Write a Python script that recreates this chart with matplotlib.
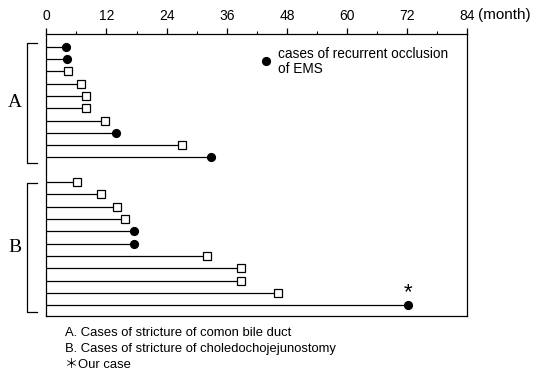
import numpy as np
import matplotlib
matplotlib.use("Agg")
from matplotlib import pyplot as plt
from matplotlib import transforms

# months of patency per case, group A (common bile duct) and B (choledochojejunostomy)
months_a = [3.9, 4.1, 4.3, 6.9, 8.0, 8.0, 11.8, 13.8, 27.0, 32.8]
recur_a = [True, True, False, False, False, False, False, True, False, True]
months_b = [6.2, 10.9, 14.0, 15.6, 17.5, 17.5, 32.1, 38.9, 38.9, 46.3, 72.2]
recur_b = [False, False, False, False, True, True, False, False, False, False, True]
xticks = [0, 12, 24, 36, 48, 60, 72, 84]
notes = ["A. Cases of stricture of comon bile duct",
         "B. Cases of stricture of choledochojejunostomy",
         "\uff0aOur case"]

plt.rcParams["font.family"] = ["Liberation Sans", "Noto Sans CJK JP", "DejaVu Sans"]

rows_a = np.arange(len(months_a))
rows_b = np.arange(len(months_b)) + len(months_a) + 1
months = months_a + months_b
recur = recur_a + recur_b
rows = np.concatenate([rows_a, rows_b])

fig = plt.figure(figsize=(5.52, 3.71), dpi=100)
ax = fig.add_axes([0.0839, 0.1482, 0.763, 0.7593])

for y, m, r in zip(rows, months, recur):
    ax.plot([0, m], [y, y], color="black", lw=0.9, zorder=2)
    if r:
        ax.plot(m, y, "o", ms=5.6, mfc="black", mec="black", zorder=3)
    else:
        ax.plot(m, y, "s", ms=5.4, mfc="white", mec="black", mew=0.9, zorder=3)

ax.set_xlim(0, 84)
ax.set_ylim(21.88, -1.007)
ax.xaxis.tick_top()
ax.set_xticks(xticks)
ax.set_xticks(np.arange(6, 84, 12), minor=True)
ax.tick_params(axis="x", which="major", direction="out", length=4, width=0.9,
               pad=4.5, labelsize=10)
ax.tick_params(axis="x", which="minor", direction="out", length=2, width=0.8)
ax.set_yticks([])
for s in ax.spines.values():
    s.set_linewidth(0.9)

ax.text(86, -2.55, "(month)", fontsize=11, ha="left", va="center",
        clip_on=False)

# group brackets on the left
tr = transforms.blended_transform_factory(ax.transAxes, ax.transData)
for label, top, bot in [("A", -0.28, 9.42), ("B", 11.05, 21.53)]:
    ax.plot([-0.0228, -0.0451, -0.0451, -0.0228], [top, top, bot, bot],
            color="black", lw=0.9, transform=tr, clip_on=False)
    ax.text(-0.0743, (top + bot) / 2, label, transform=tr, fontsize=14,
            family="Liberation Serif", ha="center", va="center")

# legend
ax.plot(43.8, 1.2, "o", ms=5.6, color="black")
ax.text(46.2, 1.22, "cases of recurrent occlusion\nof EMS", fontsize=9.8,
        ha="left", va="center", linespacing=1.1)

# asterisk for our case
ax.text(months_b[-1], rows_b[-1] - 1.05, "*", fontsize=16, ha="center",
        va="center")

for i, t in enumerate(notes):
    fig.text(0.118, 0.102 - i * 0.0425, t, fontsize=9.4, ha="left", va="center")

fig.savefig("out.png", dpi=100)
